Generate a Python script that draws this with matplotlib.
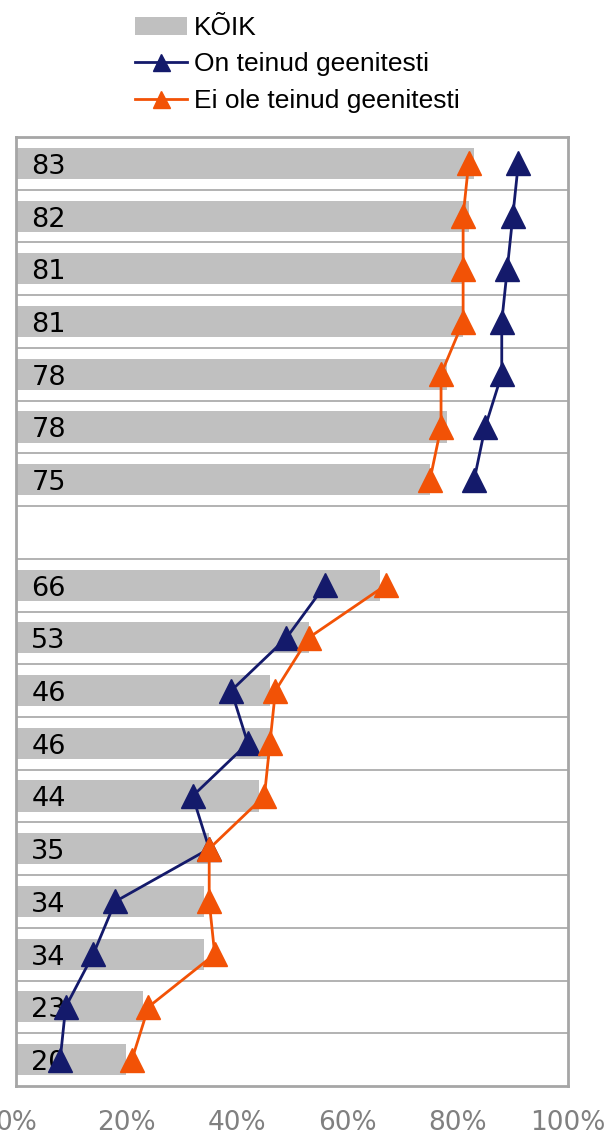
import numpy as np
import matplotlib
matplotlib.use("Agg")
import matplotlib.pyplot as plt

# Protsendid ridade kaupa (ülalt alla); tühi rida eraldab kaks plokki
koik = [83, 82, 81, 81, 78, 78, 75, np.nan, 66, 53, 46, 46, 44, 35, 34, 34, 23, 20]
on_teinud = [91, 90, 89, 88, 88, 85, 83, np.nan, 56, 49, 39, 42, 32, 35, 18, 14, 9, 8]
ei_ole = [82, 81, 81, 81, 77, 77, 75, np.nan, 67, 53, 47, 46, 45, 35, 35, 36, 24, 21]
x_ticks = [0, 20, 40, 60, 80, 100]

y = np.arange(len(koik))

fig = plt.figure(figsize=(6.1, 11.35), dpi=100)
ax = fig.add_axes([16 / 610, 1 - 1086 / 1135, 552 / 610, 949 / 1135])

bars = ax.barh(y, np.nan_to_num(koik), height=0.59, color="#C0C0C0",
               label="KÕIK", zorder=2)
ax.plot(on_teinud, y, color="#141A6B", marker="^", markersize=17, lw=2,
        label="On teinud geenitesti", zorder=4)
ax.plot(ei_ole, y, color="#F25206", marker="^", markersize=17, lw=2,
        label="Ei ole teinud geenitesti", zorder=5)

for yi, v in zip(y, koik):
    if not np.isnan(v):
        ax.annotate(f"{v:.0f}", (0, yi), xytext=(11, -2.5), textcoords="offset points",
                    va="center", ha="left", fontsize=19.5, color="black",
                    family="DejaVu Sans", zorder=3)

# horisontaalsed jooned ridade vahel
for b in np.arange(0.5, len(koik) - 1, 1):
    ax.axhline(b, color="#A6A6A6", lw=1.2, zorder=1)

ax.set_ylim(len(koik) - 0.5, -0.5)
ax.set_xlim(0, 100)
ax.set_yticks([])
ax.set_xticks(x_ticks)
ax.set_xticklabels([f"{t}%" for t in x_ticks], fontsize=19, color="#808080",
                   family="DejaVu Sans")
ax.tick_params(axis="x", length=0, pad=17)
for s in ax.spines.values():
    s.set_color("#A6A6A6")
    s.set_linewidth(2)

fig.legend(handles=[bars, ax.lines[0], ax.lines[1]],
           labels=["KÕIK", "On teinud geenitesti", "Ei ole teinud geenitesti"],
           loc="upper left", bbox_to_anchor=(135 / 610, 1 - 16 / 1135),
           frameon=False, prop={"family": "Liberation Sans", "size": 19},
           handlelength=1.97, handletextpad=0.27, labelspacing=0.47,
           borderpad=0, borderaxespad=0, markerscale=0.72)

fig.savefig("out.png", dpi=100)
